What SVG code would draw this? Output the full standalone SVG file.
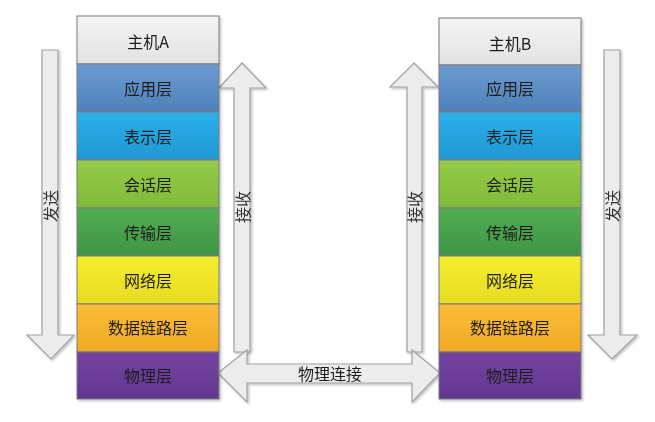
<svg xmlns="http://www.w3.org/2000/svg" width="655" height="422" viewBox="0 0 655 422">
<defs>
<linearGradient id="gHost" x1="0" y1="0" x2="0" y2="1"><stop offset="0" stop-color="#f4f4f4"/><stop offset="1" stop-color="#e2e2e2"/></linearGradient>
<linearGradient id="gApp" x1="0" y1="0" x2="0" y2="1"><stop offset="0" stop-color="#6b9bd0"/><stop offset="1" stop-color="#4f80bb"/></linearGradient>
<linearGradient id="gPre" x1="0" y1="0" x2="0" y2="1"><stop offset="0" stop-color="#2cb0ec"/><stop offset="1" stop-color="#1f97d2"/></linearGradient>
<linearGradient id="gSes" x1="0" y1="0" x2="0" y2="1"><stop offset="0" stop-color="#96cc48"/><stop offset="1" stop-color="#7fba3a"/></linearGradient>
<linearGradient id="gTra" x1="0" y1="0" x2="0" y2="1"><stop offset="0" stop-color="#53ae53"/><stop offset="1" stop-color="#3f9444"/></linearGradient>
<linearGradient id="gNet" x1="0" y1="0" x2="0" y2="1"><stop offset="0" stop-color="#f6ee30"/><stop offset="1" stop-color="#e6dc22"/></linearGradient>
<linearGradient id="gDat" x1="0" y1="0" x2="0" y2="1"><stop offset="0" stop-color="#fdbd38"/><stop offset="1" stop-color="#eea924"/></linearGradient>
<linearGradient id="gPhy" x1="0" y1="0" x2="0" y2="1"><stop offset="0" stop-color="#7444a0"/><stop offset="1" stop-color="#623690"/></linearGradient>
<filter id="sh" x="-10%" y="-10%" width="130%" height="130%"><feDropShadow dx="1.5" dy="1.5" stdDeviation="1.2" flood-color="#000" flood-opacity="0.25"/></filter>
</defs>
<style>
.lay{stroke:#7a7a7a;stroke-width:1}
.t{font-family:"Noto Sans CJK SC","Noto Sans",sans-serif;font-size:16px;fill:#1e1e1e;text-anchor:middle;dominant-baseline:central}
.at{font-family:"Noto Sans CJK SC","Noto Sans",sans-serif;font-size:16px;fill:#333;text-anchor:middle;dominant-baseline:central}
.arr{fill:#ececec;stroke:#a0a0a0;stroke-width:1.2;stroke-linejoin:miter}
</style>
<g id="connectors">
<g id="sendA" filter="url(#sh)">
<polygon class="arr" points="42,50 58,50 58,335 74,335 51,359 27,335 42,335"/>
<text class="at" transform="translate(50,206) rotate(-90)">发送</text>
</g>
<g id="recvA" filter="url(#sh)">
<polygon class="arr" points="234,352 234,88 219,88 242,63 266,88 250,88 250,352"/>
<text class="at" transform="translate(242,207) rotate(-90)">接收</text>
</g>
<g id="recvB" filter="url(#sh)">
<polygon class="arr" points="407,352 407,87 390,87 414,63 438,87 422,87 422,352"/>
<text class="at" transform="translate(414,207) rotate(-90)">接收</text>
</g>
<g id="sendB" filter="url(#sh)">
<polygon class="arr" points="604,50 620,50 620,335 637,335 612,359 588,335 604,335"/>
<text class="at" transform="translate(612,206) rotate(-90)">发送</text>
</g>
<g id="phys" filter="url(#sh)">
<polygon class="arr" points="218,373 247,350 247,364 412,364 412,350 440,373 412,402 412,383 247,383 247,402"/>
<text class="t" x="330" y="373">物理连接</text>
</g>
</g>
<g id="hostA" filter="url(#sh)">
<g id="hostA-title"><rect class="lay" x="77" y="16" width="142" height="48" fill="url(#gHost)"/><text class="t" x="148" y="41">主机A</text></g>
<g id="hostA-app"><rect class="lay" x="77" y="64" width="142" height="48" fill="url(#gApp)"/><text class="t" x="148" y="88">应用层</text></g>
<g id="hostA-pre"><rect class="lay" x="77" y="112" width="142" height="48" fill="url(#gPre)"/><text class="t" x="148" y="136">表示层</text></g>
<g id="hostA-ses"><rect class="lay" x="77" y="160" width="142" height="48" fill="url(#gSes)"/><text class="t" x="148" y="184">会话层</text></g>
<g id="hostA-tra"><rect class="lay" x="77" y="208" width="142" height="48" fill="url(#gTra)"/><text class="t" x="148" y="232">传输层</text></g>
<g id="hostA-net"><rect class="lay" x="77" y="256" width="142" height="48" fill="url(#gNet)"/><text class="t" x="148" y="280">网络层</text></g>
<g id="hostA-dat"><rect class="lay" x="77" y="304" width="142" height="48" fill="url(#gDat)"/><text class="t" x="148" y="327">数据链路层</text></g>
<g id="hostA-phy"><rect class="lay" x="77" y="352" width="142" height="47" fill="url(#gPhy)"/><text class="t" x="148" y="375">物理层</text></g>
</g>
<g id="hostB" filter="url(#sh)">
<g id="hostB-title"><rect class="lay" x="439" y="18" width="142" height="47" fill="url(#gHost)"/><text class="t" x="510" y="43">主机B</text></g>
<g id="hostB-app"><rect class="lay" x="439" y="65" width="142" height="47" fill="url(#gApp)"/><text class="t" x="510" y="88">应用层</text></g>
<g id="hostB-pre"><rect class="lay" x="439" y="112" width="142" height="48" fill="url(#gPre)"/><text class="t" x="510" y="136">表示层</text></g>
<g id="hostB-ses"><rect class="lay" x="439" y="160" width="142" height="48" fill="url(#gSes)"/><text class="t" x="510" y="184">会话层</text></g>
<g id="hostB-tra"><rect class="lay" x="439" y="208" width="142" height="48" fill="url(#gTra)"/><text class="t" x="510" y="232">传输层</text></g>
<g id="hostB-net"><rect class="lay" x="439" y="256" width="142" height="48" fill="url(#gNet)"/><text class="t" x="510" y="280">网络层</text></g>
<g id="hostB-dat"><rect class="lay" x="439" y="304" width="142" height="48" fill="url(#gDat)"/><text class="t" x="510" y="327">数据链路层</text></g>
<g id="hostB-phy"><rect class="lay" x="439" y="352" width="142" height="47" fill="url(#gPhy)"/><text class="t" x="510" y="375">物理层</text></g>
</g>
</svg>
